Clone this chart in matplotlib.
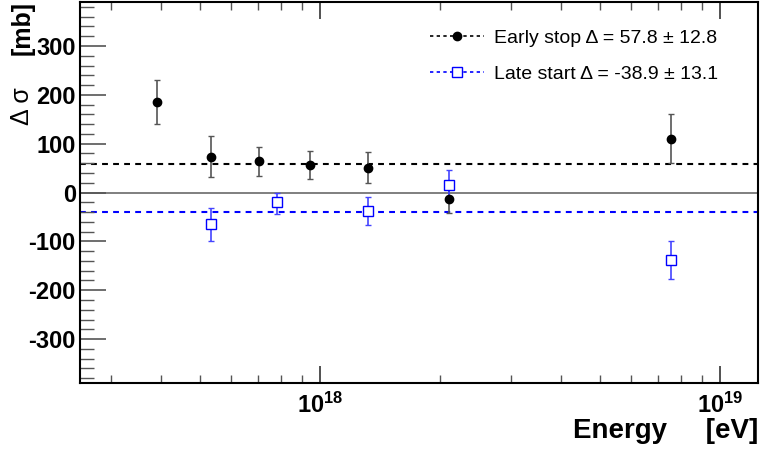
import matplotlib
matplotlib.use("Agg")
import matplotlib.pyplot as plt
from matplotlib.ticker import LogLocator, NullFormatter, MultipleLocator, FixedLocator

plt.rcParams['font.family'] = ['Liberation Sans', 'DejaVu Sans']
plt.rcParams['axes.unicode_minus'] = False
plt.rcParams['mathtext.fontset'] = 'custom'
plt.rcParams['mathtext.rm'] = 'Liberation Sans'
plt.rcParams['mathtext.bf'] = 'Liberation Sans:bold'

# Early stop (black circles)
early_e = [3.92e17, 5.34e17, 7.04e17, 9.44e17, 1.316e18, 2.105e18, 7.54e18]
early_d = [185, 73, 65, 56, 51, -13, 110]
early_up = [45, 42, 29, 28, 32, 30, 51]
early_lo = [44, 42, 32, 29, 32, 29, 49]
early_mean = 57.8

# Late start (blue open squares)
late_e = [5.34e17, 7.81e17, 1.316e18, 2.105e18, 7.54e18]
late_d = [-65, -20, -37, 15, -138]
late_up = [34, 20, 28, 31, 39]
late_lo = [35, 23, 29, 31, 39]
late_mean = -38.9

early_label = "Early stop \u0394 = 57.8 \u00b1 12.8"
late_label = "Late start \u0394 = -38.9 \u00b1 13.1"

W, H = 761, 451
fig = plt.figure(figsize=(W / 100, H / 100), dpi=100)
ax = fig.add_axes([80 / W, (H - 383) / H, 678 / W, 381 / H])

ax.set_xscale('log')
ax.set_xlim(2.51e17, 1.245e19)
ax.set_ylim(-390, 390)

ax.axhline(0, color='#7f7f7f', lw=1.4, zorder=1)
ax.axhline(early_mean, color='black', lw=1.5, ls=(0, (2.8, 2.5)), zorder=1)
ax.axhline(late_mean, color='blue', lw=1.5, ls=(0, (2.8, 2.5)), zorder=1)

ax.errorbar(early_e, early_d, yerr=[early_lo, early_up], fmt='o', color='black',
            ecolor='#555555', elinewidth=1.2, capsize=2, capthick=1.0,
            markersize=6.0, zorder=3)
ax.errorbar(late_e, late_d, yerr=[late_lo, late_up], fmt='s', color='blue',
            mfc='white', mec='blue', mew=1.0, ecolor='#4444ff',
            elinewidth=1.2, capsize=2, capthick=1.0, markersize=6.5, zorder=3)

# legend handles
h1, = ax.plot([], [], color='black', ls=(0, (2, 2)), lw=1.2, marker='o', markersize=6)
h2, = ax.plot([], [], color='blue', ls=(0, (2, 2)), lw=1.2, marker='s',
              mfc='white', mec='blue', markersize=6.5)
leg = ax.legend([h1, h2], [early_label, late_label], loc='upper right',
                bbox_to_anchor=(0.967, 0.975), frameon=False, fontsize=14,
                handlelength=2.8, handletextpad=0.5, labelspacing=0.95)

# ticks
ax.yaxis.set_major_locator(MultipleLocator(100))
ax.yaxis.set_minor_locator(MultipleLocator(20))
ax.xaxis.set_major_locator(FixedLocator([1e18, 1e19]))
ax.xaxis.set_minor_locator(LogLocator(base=10, subs=range(2, 10)))
ax.xaxis.set_minor_formatter(NullFormatter())
ax.set_xticklabels([r'$\mathbf{10^{18}}$', r'$\mathbf{10^{19}}$'])

ax.tick_params(axis='y', which='major', direction='in', length=19, width=1.2,
               color='#555555', left=True, right=False, labelsize=17, pad=3)
ax.tick_params(axis='y', which='minor', direction='in', length=10, width=1.0,
               color='#555555', left=True, right=False)
ax.tick_params(axis='x', which='major', direction='in', length=12, width=1.2,
               color='#333333', top=True, bottom=True, labelsize=17, pad=7)
ax.tick_params(axis='x', which='minor', direction='in', length=6, width=1.0,
               color='#555555', top=True, bottom=True)
for lab in ax.get_yticklabels():
    lab.set_fontweight('bold')

for sp in ax.spines.values():
    sp.set_linewidth(1.5)
    sp.set_color('black')

# axis titles
fig.text(758 / W, 1 - 431 / H, 'Energy     [eV]', ha='right', va='center',
         fontsize=20, fontweight='bold')
fig.text(23 / W, 1 - 1 / H, '[mb]', rotation=90, ha='center', va='top',
         fontsize=18, fontweight='bold')
fig.text(22 / W, 1 - 87 / H, '\u0394 \u03c3', rotation=90, ha='center', va='top',
         fontsize=18)

fig.savefig('out.png', dpi=100)
